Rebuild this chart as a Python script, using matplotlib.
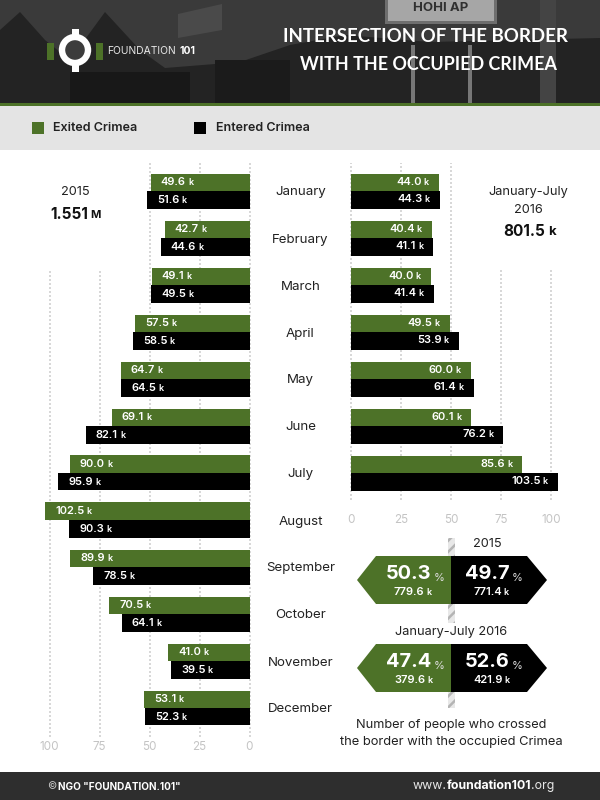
import matplotlib
matplotlib.use("Agg")
from matplotlib import pyplot as plt
from matplotlib.patches import Polygon, Rectangle, Circle

plt.rcParams['font.family'] = ['Inter', 'DejaVu Sans']
plt.rcParams['hatch.linewidth'] = 1.8

months = ['January', 'February', 'March', 'April', 'May', 'June', 'July',
          'August', 'September', 'October', 'November', 'December']
exited_2015 = [49.6, 42.7, 49.1, 57.5, 64.7, 69.1, 90.0, 102.5, 89.9, 70.5, 41.0, 53.1]
entered_2015 = [51.6, 44.6, 49.5, 58.5, 64.5, 82.1, 95.9, 90.3, 78.5, 64.1, 39.5, 52.3]
exited_2016 = [44.0, 40.4, 40.0, 49.5, 60.0, 60.1, 85.6]
entered_2016 = [44.3, 41.1, 41.4, 53.9, 61.4, 76.2, 103.5]
ticks = [0, 25, 50, 75, 100]

GREEN = '#4d7228'
GREY_TXT = '#c4c4c4'
GRID = '#d8d8d8'
DARK = '#222222'

fig = plt.figure(figsize=(6, 8), dpi=100, facecolor='white')

# page layer in pixel coords
bg = fig.add_axes([0, 0, 1, 1], zorder=0)
bg.set_xlim(0, 600)
bg.set_ylim(800, 0)
bg.axis('off')


def box(x, y, w, h, color, **kw):
    bg.add_patch(Rectangle((x, y), w, h, facecolor=color, edgecolor='none', **kw))


def shape(pts, color):
    bg.add_patch(Polygon(pts, closed=True, facecolor=color, edgecolor='none'))


# header, rough stand-in for the photo
box(0, 0, 600, 103, '#3a3a3a')
shape([(0, 103), (0, 30), (20, 12), (45, 40), (70, 60), (105, 12), (140, 50), (165, 68),
       (240, 62), (290, 45), (345, 35), (430, 42), (600, 38), (600, 103)], '#232323')
shape([(178, 14), (222, 4), (222, 30), (178, 38)], '#4a4a4a')
box(385, 0, 112, 24, '#6e6e6e')
box(388, 0, 106, 21, '#a6a6a6')
bg.text(441, 8, 'НОНІ АР', color='#303030', fontsize=9.5, fontweight='bold', ha='center', va='center')
box(411, 45, 4, 58, '#777777')
box(468, 45, 4, 58, '#777777')
box(540, 0, 16, 103, '#444444')
box(70, 72, 120, 31, '#181818')
box(215, 60, 75, 43, '#1b1b1b')
box(0, 103, 600, 3, GREEN)
box(0, 106, 600, 44, '#e4e4e4')
box(0, 772, 600, 28, '#2e2e2e')

# logo
box(47, 43, 7, 17, GREEN)
box(96, 43, 7, 17, GREEN)
box(71.5, 29, 7, 43, 'white')
bg.add_patch(Circle((75, 50), 13, facecolor='#3c3c3c', edgecolor='white', linewidth=4.6))
bg.text(107, 51, 'FOUNDATION', color='#e8e8e8', fontsize=7.4, va='center', ha='left')
bg.text(179, 51, '101', color='white', fontsize=7.4, fontweight='bold', va='center', ha='left')

# title
bg.text(425.5, 37, 'INTERSECTION OF THE BORDER', color='white', fontsize=13.4,
        fontweight='bold', family='Lato', ha='center', va='center')
bg.text(428, 65, 'WITH THE OCCUPIED CRIMEA', color='white', fontsize=12.9,
        fontweight='bold', family='Lato', ha='center', va='center')

# legend
box(32, 122, 12, 12, GREEN)
bg.text(53, 128, 'Exited Crimea', color=DARK, fontsize=9, fontweight='semibold', va='center')
box(194, 122, 12, 12, 'black')
bg.text(216, 128, 'Entered Crimea', color=DARK, fontsize=9, fontweight='semibold', va='center')

# footer
bg.text(47, 786.5, '©', color='#cccccc', fontsize=7.2, va='center')
bg.text(58, 786.5, 'NGO "FOUNDATION.101"', color='white', fontsize=7.2, fontweight='bold', va='center')
t = bg.text(413, 786, 'www.', color='#e8e8e8', fontsize=8.9, va='center')
t = bg.annotate('foundation101', xy=(1, 0.5), xycoords=t, va='center', color='white',
                fontsize=8.9, fontweight='bold')
bg.annotate('.org', xy=(1, 0.5), xycoords=t, va='center', color='#e8e8e8', fontsize=8.9)

# totals
bg.text(75, 192, '2015', color=DARK, fontsize=9.2, ha='center', va='center')
t = bg.text(50, 214.5, '1.551', color='#111111', fontsize=11, fontweight='bold', va='center')
bg.annotate('M', xy=(1, 0.5), xycoords=t, xytext=(2, 0), textcoords='offset points', va='center',
            color='#111111', fontsize=8, fontweight='bold')
bg.text(528.5, 192, 'January-July', color=DARK, fontsize=9.2, ha='center', va='center')
bg.text(528.5, 210, '2016', color=DARK, fontsize=9.2, ha='center', va='center')
t = bg.text(503, 232, '801.5', color='#111111', fontsize=11, fontweight='bold', va='center')
bg.annotate('k', xy=(1, 0.5), xycoords=t, xytext=(2, 0), textcoords='offset points', va='center',
            color='#111111', fontsize=9.5, fontweight='bold')

# month names between the two charts
for i, m in enumerate(months):
    bg.text(300.5, 192.5 + 47 * i, m, color=DARK, fontsize=9.6, ha='center', va='center')

# tick labels
for v in ticks:
    bg.text(249.5 - 2 * v, 747, str(v), color=GREY_TXT, fontsize=8.4, ha='center', va='center')
    bg.text(351 + 2 * v, 520, str(v), color=GREY_TXT, fontsize=8.4, ha='center', va='center')

# charts: 2 px per unit, 47 px per row, bars 17 px tall
ROW = 47.0
left = fig.add_axes([50 / 600, 1 - 737 / 800, 200 / 600, 574 / 800], zorder=1)
left.set_xlim(100, 0)
left.set_ylim((737 - 191) / ROW, (163 - 191) / ROW)
right = fig.add_axes([351 / 600, 1 - 500 / 800, 200 / 600, 337 / 800], zorder=1)
right.set_xlim(0, 100)
right.set_ylim((500 - 191) / ROW, (163 - 191) / ROW)
for ax in (left, right):
    ax.axis('off')
    ax.patch.set_alpha(0)

top_cut = (270 - 191) / ROW
for v in ticks:
    for ax in (left, right):
        ax.plot([v, v], [ax.get_ylim()[0], top_cut if v > 50 else ax.get_ylim()[1]],
                color=GRID, lw=1.44, ls=(0, (1, 1)), zorder=1, clip_on=False)

rows_l = list(range(len(months)))
rows_r = list(range(len(exited_2016)))
h = 17.5 / ROW
for ax, rows, ex, en in [(left, rows_l, exited_2015, entered_2015),
                         (right, rows_r, exited_2016, entered_2016)]:
    for b in ax.barh([r - h for r in rows], ex, height=h, align='edge', color=GREEN, zorder=2):
        b.set_clip_on(False)
    for b in ax.barh(rows, en, height=h, align='edge', color='black', zorder=3):
        b.set_clip_on(False)


def label_left(ax, val, y):
    t = ax.annotate(f'{val:.1f}', xy=(val, y), xytext=(7.2, 0), textcoords='offset points',
                    color='white', fontsize=8, fontweight='semibold', ha='left', va='center',
                    zorder=5, annotation_clip=False)
    ax.annotate('k', xy=(1, 0), xycoords=t, xytext=(1.6, 0), textcoords='offset points',
                color='white', fontsize=6.5, fontweight='semibold', ha='left', va='bottom',
                zorder=5, annotation_clip=False)


def label_right(ax, val, y):
    k = ax.annotate('k', xy=(val, y), xytext=(-7.2, 0), textcoords='offset points',
                    color='white', fontsize=6.5, fontweight='semibold', ha='right', va='center',
                    zorder=5, annotation_clip=False)
    ax.annotate(f'{val:.1f}', xy=(0, 0), xycoords=k, xytext=(-1.6, 0), textcoords='offset points',
                color='white', fontsize=8, fontweight='semibold', ha='right', va='bottom',
                zorder=5, annotation_clip=False)


for i in rows_l:
    label_left(left, exited_2015[i], i - h / 2)
    label_left(left, entered_2015[i], i + h / 2)
for i in rows_r:
    label_right(right, exited_2016[i], i - h / 2)
    label_right(right, entered_2016[i], i + h / 2)

# share arrows
share_rows = [
    (556, '50.3', '49.7', '779.6', '771.4'),
    (644, '47.4', '52.6', '379.6', '421.9'),
]
for y0, y1 in [(538, 556), (604, 623), (692, 708)]:
    bg.add_patch(Rectangle((448, y0), 7, y1 - y0, facecolor='#e8e8e8', edgecolor='#b4b4b4',
                           hatch='///', linewidth=0))
bg.text(487, 544, '2015', color=DARK, fontsize=9.2, ha='center', va='center')
bg.text(451, 632.5, 'January-July 2016', color=DARK, fontsize=9.2, ha='center', va='center')
for top, p1, p2, n1, n2 in share_rows:
    mid, bot = top + 24, top + 48
    shape([(357, mid), (376, top), (451, top), (451, bot), (376, bot)], GREEN)
    shape([(547, mid), (527, top), (451, top), (451, bot), (527, bot)], 'black')
    for x, p, n in [(386, p1, n1), (465, p2, n2)]:
        t = bg.text(x, mid - 6, p, color='white', fontsize=14.4, fontweight='bold', va='center', ha='left')
        bg.annotate('%', xy=(1, 0), xycoords=t, xytext=(1.5, 0), textcoords='offset points',
                    va='bottom', color='#dddddd', fontsize=8)
        t = bg.text(x + 8, mid + 12, n, color='white', fontsize=8, fontweight='semibold', va='center', ha='left')
        bg.annotate('k', xy=(1, 0), xycoords=t, xytext=(1.6, 0), textcoords='offset points',
                    va='bottom', color='white', fontsize=6.5, fontweight='semibold')

bg.text(451, 725, 'Number of people who crossed', color=DARK, fontsize=9.2, ha='center', va='center')
bg.text(451, 742, 'the border with the occupied Crimea', color=DARK, fontsize=9.3, ha='center', va='center')

fig.savefig('out.png', dpi=100)
